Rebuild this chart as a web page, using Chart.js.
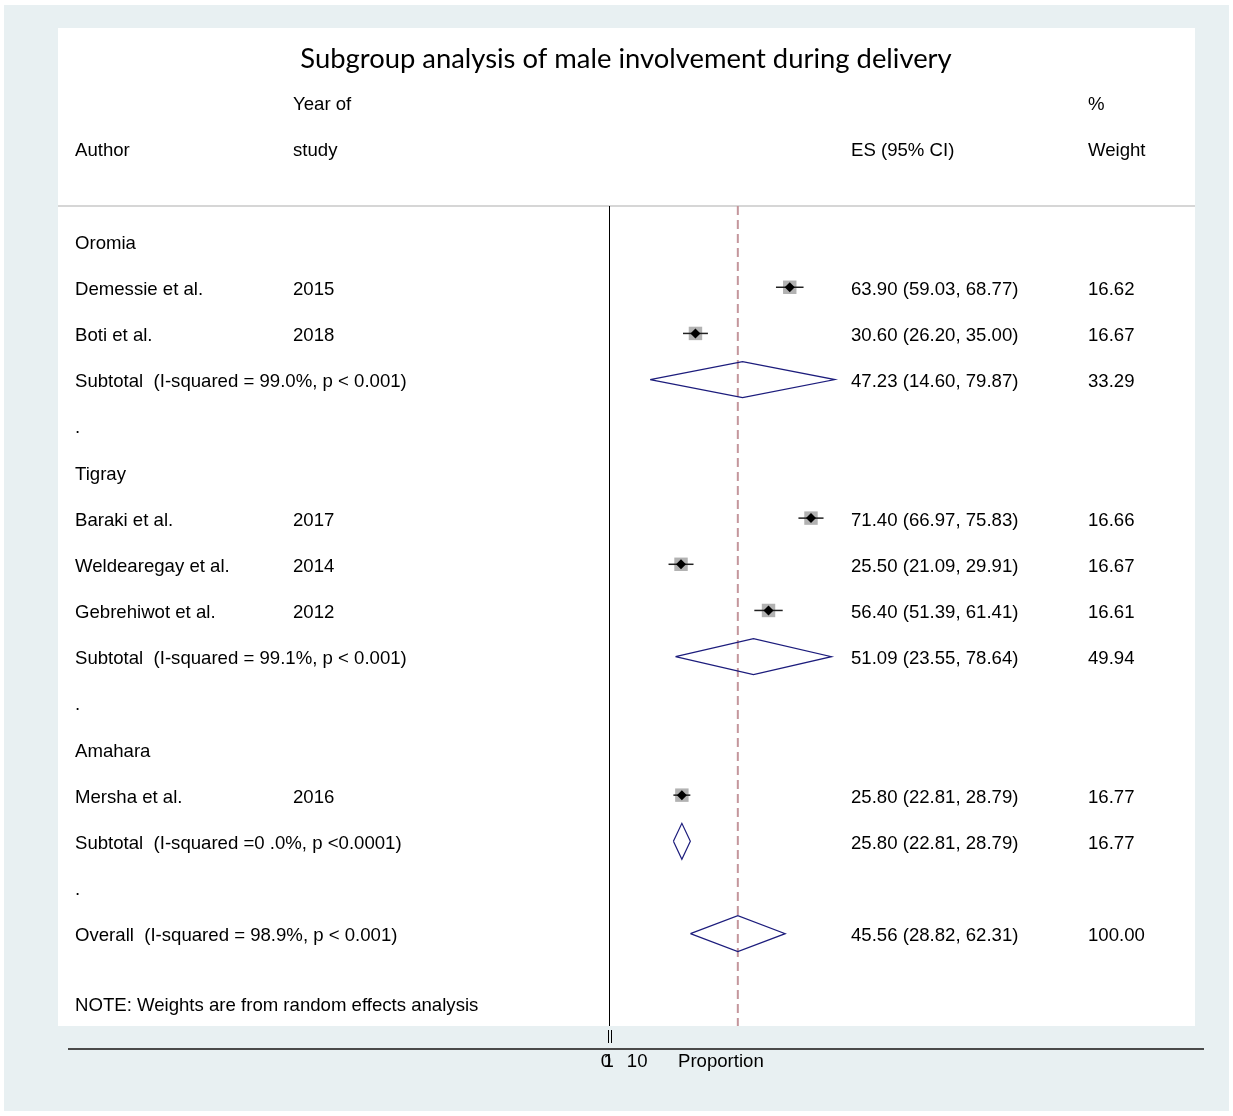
<!DOCTYPE html>
<html>
<head>
<meta charset="utf-8">
<script src="https://cdn.jsdelivr.net/npm/chart.js@4.4.1/dist/chart.umd.min.js"></script>
<style>
  html, body { margin: 0; padding: 0; background: #fff; }
  #wrap { position: relative; width: 1233px; height: 1116px; }
</style>
</head>
<body>
<div id="wrap"><canvas id="forest"></canvas></div>
<script>
// studies
const studyAuthors = ['Demessie et al.', 'Boti et al.', 'Baraki et al.', 'Weldearegay et al.', 'Gebrehiwot et al.', 'Mersha et al.']
const studyYears = ['2015', '2018', '2017', '2014', '2012', '2016']
const studyES = [63.90, 30.60, 71.40, 25.50, 56.40, 25.80]
const studyLo = [59.03, 26.20, 66.97, 21.09, 51.39, 22.81]
const studyHi = [68.77, 35.00, 75.83, 29.91, 61.41, 28.79]
const studyWeight = [16.62, 16.67, 16.66, 16.67, 16.61, 16.77]
const studyRows = [1, 2, 6, 7, 8, 12]

// subgroups
const groupNames = ['Oromia', 'Tigray', 'Amahara']
const groupRows = [0, 5, 11]
const subLabels = [
  'Subtotal  (I-squared = 99.0%, p < 0.001)',
  'Subtotal  (I-squared = 99.1%, p < 0.001)',
  'Subtotal  (I-squared =0 .0%, p <0.0001)',
]
const subES = [47.23, 51.09, 25.80]
const subLo = [14.60, 23.55, 22.81]
const subHi = [79.87, 78.64, 28.79]
const subWeight = [33.29, 49.94, 16.77]
const subRows = [3, 9, 13]
const dotRows = [4, 10, 14]

// overall
const overallLabel = 'Overall  (I-squared = 98.9%, p < 0.001)'
const overallES = 45.56
const overallLo = 28.82
const overallHi = 62.31
const overallWeight = 100.00
const overallRow = 15
const noteRow = 16.5
const noteText = 'NOTE: Weights are from random effects analysis'

// axis
const tickValues = [0, 1, 10]
const tickLabels = ['0', '1', '10']
const axisTitle = 'Proportion'

const FONT = "'Liberation Sans', Arial, sans-serif"
const NAVY = '#1c1c7c'

const diamond = (lo, es, hi, row) => [
  { x: lo, y: row },
  { x: es, y: row - 0.39 },
  { x: hi, y: row },
  { x: es, y: row + 0.39 },
  { x: lo, y: row },
]

const datasets = []

// CI lines
studyRows.forEach((row, i) => {
  datasets.push({
    data: [{ x: studyLo[i], y: row }, { x: studyHi[i], y: row }],
    showLine: true,
    borderColor: '#222',
    borderWidth: 1.5,
    pointRadius: 0,
    order: 2,
  })
})

// weight boxes
datasets.push({
  data: studyRows.map((row, i) => ({ x: studyES[i], y: row })),
  pointStyle: 'rect',
  pointRadius: 9.5,
  backgroundColor: '#b2b2b2',
  borderWidth: 0,
  order: 3,
})

// point estimates
datasets.push({
  data: studyRows.map((row, i) => ({ x: studyES[i], y: row })),
  pointStyle: 'rectRot',
  pointRadius: 5,
  backgroundColor: '#000',
  borderWidth: 0,
  order: 1,
})

// subtotal diamonds
subRows.forEach((row, i) => {
  datasets.push({
    data: diamond(subLo[i], subES[i], subHi[i], row),
    showLine: true,
    borderColor: NAVY,
    borderWidth: 1.2,
    pointRadius: 0,
    order: 1,
  })
})

// overall diamond
datasets.push({
  data: diamond(overallLo, overallES, overallHi, overallRow),
  showLine: true,
  borderColor: NAVY,
  borderWidth: 1.2,
  pointRadius: 0,
  order: 1,
})

const backgroundPlugin = {
  id: 'background',
  beforeDraw(chart) {
    const ctx = chart.ctx
    ctx.save()
    ctx.fillStyle = '#fff'
    ctx.fillRect(0, 0, chart.width, chart.height)
    ctx.fillStyle = '#e8f0f2'
    ctx.fillRect(4, 5, 1225, 1106)
    ctx.fillStyle = '#fff'
    ctx.fillRect(58, 28, 1137, chart.chartArea.bottom - 28)
    ctx.fillStyle = '#d6d6d6'
    ctx.fillRect(58, chart.chartArea.top - 1, 1137, 2)
    ctx.restore()
  },
}

const refLinesPlugin = {
  id: 'refLines',
  beforeDatasetsDraw(chart) {
    const { ctx, chartArea } = chart
    const x = chart.scales.x
    ctx.save()
    // null line
    const x0 = Math.round(x.getPixelForValue(0)) + 0.5
    ctx.strokeStyle = '#000'
    ctx.lineWidth = 1
    ctx.beginPath()
    ctx.moveTo(x0, chartArea.top)
    ctx.lineTo(x0, chartArea.bottom)
    ctx.stroke()
    // overall effect line
    const xo = x.getPixelForValue(overallES)
    ctx.strokeStyle = '#c4969c'
    ctx.lineWidth = 2
    ctx.setLineDash([9, 5])
    ctx.beginPath()
    ctx.moveTo(xo, chartArea.top)
    ctx.lineTo(xo, chartArea.bottom)
    ctx.stroke()
    ctx.restore()
  },
}

const textPlugin = {
  id: 'forestText',
  afterDraw(chart) {
    const { ctx, chartArea } = chart
    const x = chart.scales.x
    const y = chart.scales.y
    const colAuthor = 75, colYear = 293, colES = 851, colWeight = 1088
    const ci = (es, lo, hi) => `${es.toFixed(2)} (${lo.toFixed(2)}, ${hi.toFixed(2)})`

    ctx.save()
    ctx.fillStyle = '#000'
    ctx.textBaseline = 'middle'
    ctx.textAlign = 'center'
    ctx.font = "27.4px Lato, 'Open Sans', sans-serif"
    ctx.fillText('Subgroup analysis of male involvement during delivery', 626, 59)

    ctx.textAlign = 'left'
    ctx.font = `18.6px ${FONT}`
    // text sits a touch lower than the row centre
    const put = (t, cx, row) => ctx.fillText(t, cx, y.getPixelForValue(row) + 2.5)

    // header
    put('Year of', colYear, -3)
    put('%', colWeight, -3)
    put('Author', colAuthor, -2)
    put('study', colYear, -2)
    put('ES (95% CI)', colES, -2)
    put('Weight', colWeight, -2)

    groupNames.forEach((g, i) => put(g, colAuthor, groupRows[i]))
    studyRows.forEach((row, i) => {
      put(studyAuthors[i], colAuthor, row)
      put(studyYears[i], colYear, row)
      put(ci(studyES[i], studyLo[i], studyHi[i]), colES, row)
      put(studyWeight[i].toFixed(2), colWeight, row)
    })
    subRows.forEach((row, i) => {
      put(subLabels[i], colAuthor, row)
      put(ci(subES[i], subLo[i], subHi[i]), colES, row)
      put(subWeight[i].toFixed(2), colWeight, row)
    })
    dotRows.forEach((row) => put('.', colAuthor, row))
    put(overallLabel, colAuthor, overallRow)
    put(ci(overallES, overallLo, overallHi), colES, overallRow)
    put(overallWeight.toFixed(2), colWeight, overallRow)
    put(noteText, colAuthor, noteRow)

    // x axis below the panel
    const axisY = chartArea.bottom + 23
    ctx.fillStyle = '#4a4a4a'
    ctx.fillRect(chartArea.left, axisY - 1, chartArea.right - chartArea.left, 2)
    ctx.strokeStyle = '#000'
    ctx.lineWidth = 1
    tickValues.slice(0, 2).forEach((v) => {
      const px = Math.round(x.getPixelForValue(v)) - 0.5
      ctx.beginPath()
      ctx.moveTo(px, chartArea.bottom + 4)
      ctx.lineTo(px, chartArea.bottom + 17)
      ctx.stroke()
    })
    ctx.fillStyle = '#000'
    ctx.textAlign = 'center'
    tickValues.forEach((v, i) => {
      ctx.fillText(tickLabels[i], x.getPixelForValue(v) - (i < 2 ? 3 : 0), axisY + 13)
    })
    ctx.textAlign = 'left'
    ctx.fillText(axisTitle, 678, axisY + 13)
    ctx.restore()
  },
}

new Chart(document.getElementById('forest'), {
  type: 'scatter',
  data: { datasets },
  options: {
    responsive: true,
    maintainAspectRatio: false,
    animation: false,
    layout: { padding: { left: 68, right: 29, top: 206, bottom: 90 } },
    scales: {
      x: { type: 'linear', min: -191, max: 210.2, display: false },
      y: { type: 'linear', min: -0.76, max: 17, reverse: true, display: false },
    },
    plugins: {
      legend: { display: false },
      tooltip: { enabled: false },
    },
  },
  plugins: [backgroundPlugin, refLinesPlugin, textPlugin],
})
</script>
</body>
</html>
